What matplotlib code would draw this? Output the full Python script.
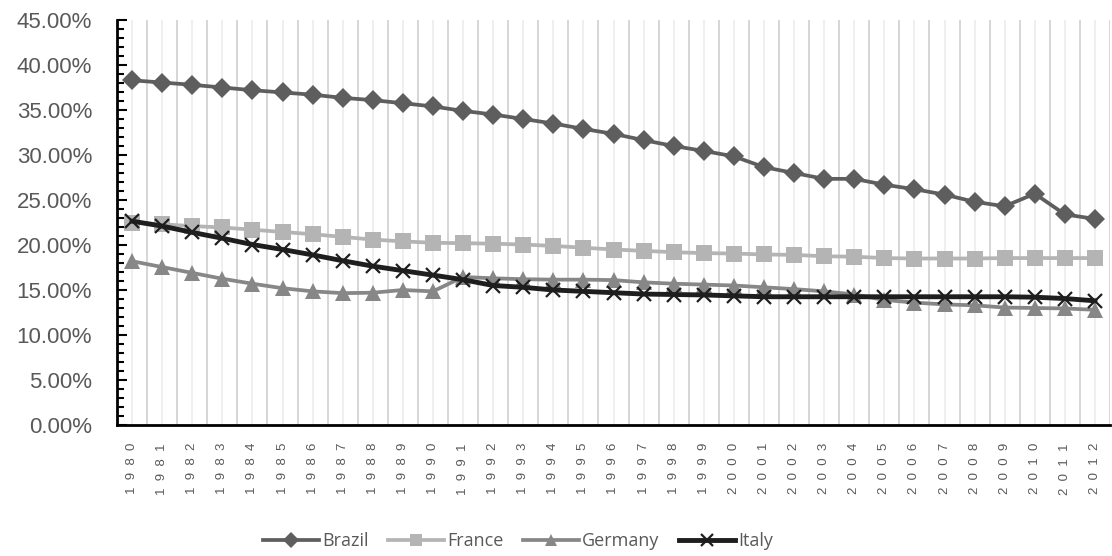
import matplotlib
matplotlib.use("Agg")
import matplotlib.pyplot as plt
from matplotlib.ticker import FuncFormatter, MultipleLocator

plt.rcParams["font.family"] = ["Liberation Sans", "DejaVu Sans"]

years = list(range(1980, 2013))

brazil = [38.3, 38.05, 37.8, 37.5, 37.2, 36.95, 36.7, 36.35, 36.1, 35.75, 35.4,
          34.9, 34.5, 34.0, 33.5, 32.9, 32.35, 31.65, 31.0, 30.45, 29.85,
          28.65, 28.0, 27.35, 27.35, 26.7, 26.2, 25.6, 24.8, 24.3, 25.7,
          23.4, 22.9]
france = [22.5, 22.3, 22.1, 21.95, 21.7, 21.45, 21.2, 20.9, 20.6, 20.4, 20.25,
          20.2, 20.15, 20.05, 19.9, 19.7, 19.5, 19.35, 19.2, 19.1, 19.05,
          18.95, 18.9, 18.75, 18.7, 18.55, 18.5, 18.5, 18.5, 18.55, 18.55,
          18.55, 18.55]
germany = [18.2, 17.55, 16.9, 16.25, 15.7, 15.2, 14.85, 14.65, 14.7, 15.0, 14.85,
           16.45, 16.3, 16.2, 16.15, 16.15, 16.1, 15.85, 15.7, 15.6, 15.5,
           15.3, 15.1, 14.85, 14.5, 13.9, 13.6, 13.4, 13.3, 13.05, 13.0,
           12.95, 12.8]
italy = [22.65, 22.1, 21.4, 20.75, 20.05, 19.5, 18.9, 18.25, 17.65, 17.15, 16.65,
         16.15, 15.5, 15.3, 15.0, 14.85, 14.7, 14.55, 14.5, 14.45, 14.35,
         14.25, 14.25, 14.25, 14.25, 14.25, 14.25, 14.25, 14.25, 14.25, 14.2,
         14.05, 13.8]

series = [
    ("Brazil", brazil, "#5e5e5e", "D", 10, 2.7),
    ("France", france, "#b4b4b4", "s", 11.5, 2.7),
    ("Germany", germany, "#878787", "^", 11, 2.7),
    ("Italy", italy, "#1e1e1e", "x", 9.5, 3.5),
]

label_color = "#595959"

fig = plt.figure(figsize=(11.12, 5.56), dpi=100)
ax = fig.add_axes([117 / 1112, 1 - 425 / 556, (1110 - 117) / 1112, (425 - 20) / 556])

x = list(range(len(years)))
for name, vals, color, marker, ms, lw in series:
    mew = 1.6 if marker == "x" else 0
    ax.plot(x, vals, color=color, lw=lw, marker=marker, markersize=ms,
            markerfacecolor=color, markeredgecolor=color, markeredgewidth=mew,
            label=name, zorder=3)

ax.set_xlim(-0.5, len(years) - 0.5)
ax.set_ylim(0, 45)

# vertical gridlines: darker at category boundaries, faint at category centres
for b in range(len(years) + 1):
    ax.axvline(b - 0.5, color="#d6d6d6", lw=1.4, zorder=1)
for c in x:
    ax.axvline(c, color="#efefef", lw=1.4, zorder=1)

ax.yaxis.set_major_locator(MultipleLocator(5))
ax.yaxis.set_minor_locator(MultipleLocator(1))
ax.yaxis.set_major_formatter(FuncFormatter(lambda v, p: f"{v:.2f}%"))
ax.tick_params(axis="y", which="major", direction="in", length=7, width=1.5,
               color="black", labelsize=16, labelcolor=label_color, pad=18)
ax.tick_params(axis="y", which="minor", direction="in", length=5, width=1.5,
               color="black")

# year labels are set with wide letter spacing
ax.set_xticks(x, ["  ".join(str(y)) for y in years])
ax.tick_params(axis="x", which="major", length=0, pad=13, labelsize=9.5,
               labelcolor=label_color, labelrotation=90)
for lbl in ax.get_xticklabels():
    lbl.set_va("top")

for s in ["top", "right"]:
    ax.spines[s].set_visible(False)
for s in ["left", "bottom"]:
    ax.spines[s].set_color("black")
    ax.spines[s].set_linewidth(2)
    ax.spines[s].set_zorder(4)

leg = fig.legend(loc="center", bbox_to_anchor=(518 / 1112, 1 - 541 / 556), ncol=4,
                 frameon=False, handlelength=3.1, handletextpad=0.15,
                 columnspacing=1.1,
                 prop={"family": ["Open Sans", "DejaVu Sans"], "size": 13})
for t in leg.get_texts():
    t.set_color(label_color)
for h in leg.legend_handles:
    h.set_markersize(8)

fig.savefig("out.png", dpi=100)
